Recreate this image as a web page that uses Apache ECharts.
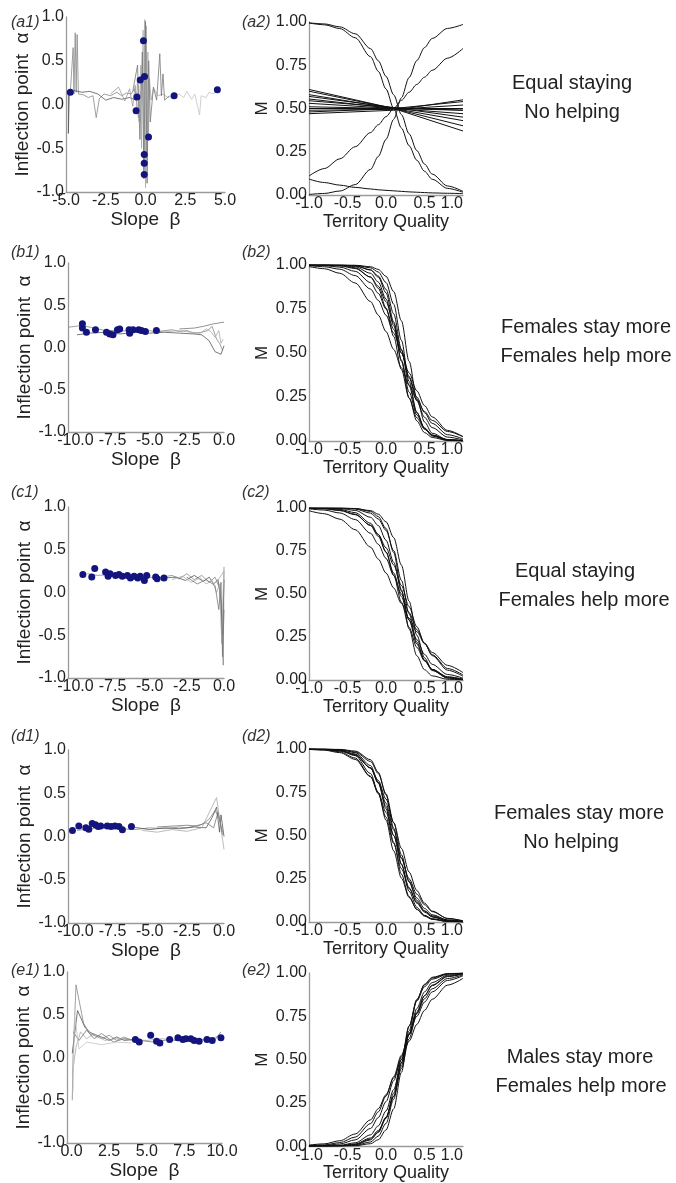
<!DOCTYPE html>
<html>
<head>
<meta charset="utf-8">
<script src="https://cdn.jsdelivr.net/npm/echarts@6/dist/echarts.min.js"></script>
<style>
  html, body { margin: 0; padding: 0; background: #fff; }
  #chart { width: 676px; height: 1183px; }
</style>
</head>
<body>
<div id="chart"></div>
<script>
// territory quality positions where the curves were read
const qGrid = [-1, -0.8, -0.6, -0.4, -0.2, -0.1, 0, 0.1, 0.2, 0.3, 0.4, 0.5, 0.6, 0.8, 1]

// tick labels of the slope axes
const aTicks = [-5, -2.5, 0, 2.5, 5]
const bTicks = [-10, -7.5, -5, -2.5, 0]
const eTicks = [0, 2.5, 5, 7.5, 10]

// (a) equal staying, no helping
const aDots = [[-4.73, 0.14], [-0.54, 0.085], [-0.59, -0.07], [-0.33, 0.28], [-0.06, 0.32], [-0.13, 0.73],
  [0.19, -0.37], [-0.08, -0.57], [-0.08, -0.67], [-0.08, -0.8], [1.8, 0.1], [4.52, 0.17]]
const aTrails = [
  [[-4.73, 0.14], [-4.62, 0.13], [-4.55, 0.65], [-4.5, 0.12], [-4.42, 0.82], [-4.36, 0.14], [-4.3, 0.8], [-4.22, 0.12], [-3.9, 0.11], [-3.6, 0.08], [-3.3, 0.1], [-3.1, -0.15], [-2.9, 0.07], [-2.6, 0.12], [-2.2, 0.1], [-1.8, 0.14], [-1.5, 0.1], [-1.2, 0.13], [-0.9, 0.12], [-0.7, 0.18], [-0.54, 0.085]],
  [[-4.85, 0.15], [-4.85, -0.33], [-4.8, 0.1], [-4.5, 0.16], [-4.0, 0.14], [-3.5, 0.15], [-3.0, 0.12], [-2.5, 0.05], [-2.0, 0.08], [-1.5, 0.06], [-1.0, 0.08], [-0.6, 0.05]],
  [[-0.59, -0.07], [-0.5, 0.3], [-0.4, -0.2], [-0.3, 0.45], [-0.25, -0.5], [-0.15, 0.85], [-0.1, -0.75], [-0.05, 0.97], [0.0, -0.95], [0.05, 0.9], [0.1, -0.6], [0.15, 0.6], [0.19, -0.37], [0.25, 0.3], [0.35, 0.05], [0.5, 0.18], [0.8, 0.1], [1.1, 0.12], [1.4, 0.08], [1.8, 0.1]],
  [[-0.8, 0.15], [-0.5, 0.45], [-0.35, -0.4], [-0.2, 0.6], [-0.1, -0.85], [0.0, 0.95], [0.1, -0.9], [0.2, 0.5], [0.3, -0.2], [0.5, 0.2], [0.7, 0.05], [0.9, 0.58], [1.0, 0.1], [1.1, 0.35], [1.2, 0.05], [1.5, 0.1]],
  [[1.8, 0.1], [2.1, 0.12], [2.4, 0.08], [2.6, 0.15], [2.9, 0.06], [3.1, 0.12], [3.4, -0.12], [3.5, 0.1], [3.8, 0.08], [4.0, 0.14], [4.3, 0.12], [4.52, 0.17]],
  [[-2.2, 0.12], [-1.7, 0.2], [-1.3, 0.04], [-1.0, 0.18], [-0.8, -0.02], [-0.65, 0.22], [-0.45, -0.15], [-0.3, 0.15]]
]
const aCurves = [
  [0.994, 0.984, 0.962, 0.909, 0.799, 0.715, 0.613, 0.500, 0.387, 0.285, 0.201, 0.137, 0.091, 0.038, 0.016],
  [0.995, 0.989, 0.972, 0.932, 0.846, 0.776, 0.686, 0.579, 0.465, 0.354, 0.257, 0.179, 0.121, 0.052, 0.021],
  [0.003, 0.009, 0.023, 0.060, 0.148, 0.223, 0.321, 0.438, 0.562, 0.679, 0.777, 0.852, 0.905, 0.963, 0.986],
  [0.110, 0.153, 0.209, 0.279, 0.361, 0.406, 0.453, 0.500, 0.547, 0.594, 0.639, 0.681, 0.721, 0.791, 0.847],
  [0.092, 0.072, 0.057, 0.044, 0.035, 0.030, 0.027, 0.024, 0.021, 0.018, 0.016, 0.014, 0.012, 0.010, 0.008]
]
// nearly flat curves: M at quality -1, 0.1 and 1
const aFlatStart = [0.61, 0.60, 0.58, 0.57, 0.555, 0.545, 0.53, 0.51, 0.50, 0.49, 0.48, 0.47]
const aFlatMid = [0.50, 0.50, 0.50, 0.505, 0.50, 0.505, 0.50, 0.50, 0.50, 0.495, 0.50, 0.49]
const aFlatEnd = [0.40, 0.37, 0.43, 0.45, 0.47, 0.49, 0.50, 0.49, 0.50, 0.52, 0.54, 0.55]

// (b) females stay more, females help more
const bDots = [[-9.53, 0.28], [-9.53, 0.23], [-9.26, 0.18], [-8.65, 0.21], [-7.91, 0.18], [-7.69, 0.16], [-7.47, 0.15],
  [-7.17, 0.21], [-7.02, 0.22], [-6.39, 0.21], [-6.35, 0.17], [-6.12, 0.21], [-5.74, 0.21], [-5.56, 0.2], [-5.29, 0.19], [-4.55, 0.2]]
const bTrails = [
  [[-10.5, 0.24], [-10, 0.25], [-9.6, 0.26], [-9, 0.24], [-8.5, 0.22], [-8, 0.2], [-7, 0.2], [-6, 0.19], [-5, 0.2], [-4.5, 0.18], [-4, 0.2], [-3.5, 0.21], [-3, 0.19], [-2.5, 0.2], [-2, 0.17], [-1.5, 0.18], [-1.1, 0.2], [-0.8, 0.25], [-0.5, 0.1], [-0.3, 0.05], [-0.1, -0.03]],
  [[-9.9, 0.15], [-9, 0.17], [-8, 0.18], [-7, 0.16], [-6, 0.18], [-5, 0.17], [-4, 0.18], [-3, 0.17], [-2, 0.16], [-1.5, 0.15], [-1.0, 0.08], [-0.6, -0.05], [-0.2, -0.08], [0, 0.02]],
  [[-4.5, 0.2], [-3.8, 0.19], [-3, 0.2], [-2.2, 0.18], [-1.6, 0.17], [-1.2, 0.22], [-0.9, 0.19], [-0.6, 0.12], [-0.35, 0.2], [-0.2, 0.05], [-0.05, 0.1]],
  [[-3, 0.22], [-2, 0.23], [-1.4, 0.25], [-0.7, 0.28], [0, 0.3]]
]
const bCurves = [
  [1.000, 1.000, 1.000, 0.999, 0.990, 0.975, 0.936, 0.849, 0.683, 0.453, 0.241, 0.108, 0.044, 0.007, 0.001],
  [1.000, 1.000, 1.000, 0.998, 0.984, 0.960, 0.901, 0.777, 0.572, 0.338, 0.164, 0.070, 0.028, 0.004, 0.001],
  [1.000, 1.000, 0.999, 0.996, 0.971, 0.931, 0.842, 0.677, 0.453, 0.246, 0.114, 0.048, 0.020, 0.003, 0.001],
  [1.000, 1.000, 0.999, 0.995, 0.973, 0.937, 0.862, 0.723, 0.522, 0.314, 0.161, 0.074, 0.033, 0.006, 0.001],
  [1.000, 1.000, 0.998, 0.990, 0.953, 0.903, 0.807, 0.655, 0.460, 0.279, 0.148, 0.073, 0.034, 0.007, 0.002],
  [1.000, 0.999, 0.996, 0.984, 0.931, 0.868, 0.756, 0.594, 0.406, 0.244, 0.132, 0.067, 0.033, 0.008, 0.002],
  [1.000, 0.999, 0.995, 0.980, 0.932, 0.879, 0.792, 0.668, 0.515, 0.359, 0.228, 0.135, 0.076, 0.022, 0.006],
  [0.999, 0.996, 0.988, 0.964, 0.900, 0.839, 0.750, 0.634, 0.500, 0.366, 0.250, 0.161, 0.100, 0.036, 0.012],
  [0.996, 0.990, 0.976, 0.940, 0.863, 0.799, 0.715, 0.613, 0.500, 0.387, 0.285, 0.201, 0.137, 0.060, 0.025],
  [0.991, 0.979, 0.953, 0.898, 0.792, 0.715, 0.622, 0.520, 0.416, 0.319, 0.235, 0.168, 0.117, 0.054, 0.024]
]

// (c) equal staying, females help more
const cDots = [[-9.5, 0.21], [-8.7, 0.28], [-8.9, 0.18], [-7.97, 0.24], [-7.8, 0.19], [-7.67, 0.22], [-7.3, 0.2],
  [-7.07, 0.21], [-6.85, 0.19], [-6.5, 0.2], [-6.3, 0.17], [-6.05, 0.19], [-5.8, 0.17], [-5.64, 0.19],
  [-5.36, 0.14], [-5.2, 0.2], [-4.6, 0.18], [-4.5, 0.16], [-4.04, 0.17]]
const cTrails = [
  [[-9.2, 0.22], [-8.5, 0.2], [-7.5, 0.21], [-6.5, 0.18], [-5.5, 0.19], [-4.5, 0.17], [-3.5, 0.2], [-3, 0.16], [-2.5, 0.22], [-2, 0.15], [-1.5, 0.2], [-1.0, 0.12], [-0.6, 0.18], [-0.3, 0.05], [-0.15, -0.3], [-0.05, -0.85], [0, 0.3]],
  [[-4.0, 0.17], [-3.2, 0.18], [-2.6, 0.14], [-2.0, 0.2], [-1.4, 0.13], [-1.0, 0.18], [-0.7, 0.1], [-0.4, 0.15], [-0.2, -0.1], [-0.1, -0.5], [0, 0.15]],
  [[-3.5, 0.15], [-2.8, 0.19], [-2.2, 0.12], [-1.6, 0.17], [-1.2, 0.1], [-0.8, 0.14], [-0.5, 0.0], [-0.3, 0.1], [-0.15, -0.6], [-0.05, 0.05], [0, 0.25], [-0.5, 0.12]],
  [[-2.5, 0.18], [-1.8, 0.1], [-1.2, 0.15], [-0.6, 0.08], [-0.35, -0.2], [-0.2, 0.12], [-0.1, -0.75], [0, -0.2]]
]
const cCurves = [
  [1.000, 1.000, 1.000, 0.997, 0.980, 0.950, 0.881, 0.741, 0.525, 0.297, 0.141, 0.060, 0.024, 0.004, 0.001],
  [1.000, 1.000, 1.000, 0.997, 0.985, 0.964, 0.920, 0.828, 0.668, 0.458, 0.261, 0.129, 0.058, 0.011, 0.002],
  [1.000, 1.000, 0.999, 0.994, 0.970, 0.936, 0.870, 0.752, 0.579, 0.385, 0.221, 0.114, 0.055, 0.012, 0.003],
  [1.000, 0.999, 0.997, 0.986, 0.946, 0.898, 0.813, 0.684, 0.517, 0.348, 0.209, 0.116, 0.061, 0.016, 0.004],
  [0.999, 0.998, 0.992, 0.973, 0.911, 0.846, 0.745, 0.608, 0.453, 0.306, 0.190, 0.111, 0.062, 0.019, 0.005],
  [0.999, 0.996, 0.988, 0.964, 0.898, 0.835, 0.743, 0.622, 0.485, 0.350, 0.235, 0.149, 0.091, 0.032, 0.011],
  [0.998, 0.995, 0.985, 0.961, 0.900, 0.846, 0.769, 0.668, 0.550, 0.426, 0.310, 0.214, 0.142, 0.057, 0.022],
  [0.995, 0.988, 0.971, 0.933, 0.853, 0.789, 0.707, 0.608, 0.500, 0.392, 0.293, 0.211, 0.147, 0.067, 0.029],
  [0.984, 0.967, 0.935, 0.874, 0.772, 0.703, 0.622, 0.535, 0.445, 0.359, 0.281, 0.214, 0.160, 0.085, 0.043]
]

// (d) females stay more, no helping
const dDots = [[-10.2, 0.07], [-9.77, 0.12], [-9.3, 0.1], [-9.1, 0.085], [-8.87, 0.15], [-8.65, 0.135], [-8.47, 0.115],
  [-8.3, 0.12], [-7.86, 0.12], [-7.6, 0.115], [-7.34, 0.12], [-7.07, 0.115], [-6.84, 0.077], [-6.23, 0.115]]
const dTrails = [
  [[-9.9, 0.07], [-9, 0.09], [-8, 0.1], [-7, 0.09], [-6, 0.08], [-5, 0.1], [-4, 0.09], [-3, 0.11], [-2.5, 0.1], [-2, 0.12], [-1.5, 0.14], [-1, 0.2], [-0.6, 0.3], [-0.3, 0.2], [-0.1, 0.05]],
  [[-6.2, 0.11], [-5, 0.08], [-4, 0.1], [-3, 0.09], [-2, 0.11], [-1.2, 0.1], [-0.8, 0.22], [-0.5, 0.34], [-0.3, 0.05], [-0.2, 0.25], [0, 0.0]],
  [[-5.5, 0.07], [-4.5, 0.05], [-3.5, 0.08], [-2.5, 0.06], [-1.5, 0.1], [-0.5, 0.45], [0, -0.15]],
  [[-4.5, 0.11], [-3.5, 0.12], [-2.5, 0.13], [-1.8, 0.12], [-1.2, 0.16], [-0.7, 0.1], [-0.4, 0.28], [-0.1, 0.02]]
]
const dCurves = [
  [1.000, 1.000, 0.998, 0.988, 0.938, 0.866, 0.735, 0.542, 0.336, 0.178, 0.085, 0.038, 0.017, 0.003, 0.001],
  [1.000, 0.999, 0.996, 0.979, 0.904, 0.808, 0.655, 0.460, 0.277, 0.147, 0.072, 0.034, 0.015, 0.003, 0.001],
  [1.000, 0.999, 0.996, 0.983, 0.928, 0.858, 0.741, 0.574, 0.389, 0.231, 0.125, 0.063, 0.031, 0.007, 0.002],
  [1.000, 0.998, 0.993, 0.971, 0.891, 0.802, 0.668, 0.500, 0.332, 0.198, 0.109, 0.057, 0.029, 0.007, 0.002],
  [0.999, 0.998, 0.991, 0.967, 0.889, 0.807, 0.686, 0.532, 0.373, 0.237, 0.139, 0.078, 0.042, 0.012, 0.003],
  [0.999, 0.996, 0.984, 0.948, 0.842, 0.741, 0.606, 0.453, 0.308, 0.193, 0.114, 0.065, 0.036, 0.011, 0.003],
  [0.999, 0.997, 0.989, 0.964, 0.891, 0.818, 0.711, 0.574, 0.426, 0.289, 0.182, 0.109, 0.063, 0.020, 0.006],
  [0.998, 0.993, 0.979, 0.940, 0.839, 0.750, 0.634, 0.500, 0.366, 0.250, 0.161, 0.100, 0.060, 0.021, 0.007],
  [1.000, 0.998, 0.991, 0.962, 0.858, 0.746, 0.589, 0.411, 0.254, 0.142, 0.074, 0.038, 0.019, 0.005, 0.001]
]

// (e) males stay more, females help more
const eDots = [[4.24, 0.21], [4.5, 0.18], [5.26, 0.26], [5.65, 0.19], [5.87, 0.17], [6.52, 0.21], [7.07, 0.23],
  [7.4, 0.21], [7.6, 0.22], [7.93, 0.22], [8.15, 0.2], [8.48, 0.19], [9.0, 0.21], [9.35, 0.2], [9.93, 0.23]]
const eTrails = [
  [[0.05, -0.5], [0.1, 0.0], [0.3, 0.85], [0.8, 0.4], [1.2, 0.28], [1.6, 0.25], [2, 0.22], [2.5, 0.26], [3, 0.2], [3.5, 0.24], [4, 0.2]],
  [[0.05, 0.05], [0.4, 0.55], [0.9, 0.35], [1.2, 0.3], [1.5, 0.27], [2, 0.24], [2.5, 0.2], [3, 0.24], [3.5, 0.2], [4.2, 0.21]],
  [[0.05, -0.2], [0.3, 0.12], [0.6, 0.3], [1.0, 0.22], [1.5, 0.28], [2.2, 0.2], [3, 0.22], [4, 0.21], [5, 0.2], [6, 0.22], [7, 0.2], [8, 0.21], [9, 0.2], [9.9, 0.26]],
  [[0.1, 0.3], [0.5, 0.2], [1.0, 0.32], [1.5, 0.22], [2.0, 0.28], [2.8, 0.18], [3.5, 0.22], [4.5, 0.2], [5.5, 0.18], [6.5, 0.21], [7.5, 0.19], [8.5, 0.21], [9.5, 0.2], [9.93, 0.3]],
  [[0.1, -0.4], [0.2, 0.5], [0.5, 0.1], [1, 0.18], [2, 0.15], [3, 0.18], [4, 0.17]]
]
const eCurves = [
  [0.000, 0.000, 0.000, 0.002, 0.014, 0.037, 0.093, 0.216, 0.426, 0.666, 0.843, 0.935, 0.975, 0.997, 1.000],
  [0.000, 0.000, 0.001, 0.004, 0.024, 0.058, 0.131, 0.271, 0.478, 0.692, 0.847, 0.931, 0.971, 0.995, 0.999],
  [0.000, 0.000, 0.001, 0.007, 0.036, 0.079, 0.162, 0.306, 0.500, 0.694, 0.838, 0.921, 0.964, 0.993, 0.999],
  [0.000, 0.000, 0.002, 0.010, 0.041, 0.083, 0.161, 0.289, 0.463, 0.646, 0.794, 0.891, 0.945, 0.987, 0.997],
  [0.000, 0.001, 0.003, 0.012, 0.047, 0.090, 0.167, 0.287, 0.448, 0.620, 0.767, 0.869, 0.930, 0.982, 0.996],
  [0.000, 0.001, 0.005, 0.019, 0.065, 0.117, 0.203, 0.327, 0.483, 0.643, 0.776, 0.869, 0.927, 0.979, 0.994],
  [0.001, 0.004, 0.012, 0.036, 0.102, 0.165, 0.257, 0.378, 0.515, 0.650, 0.765, 0.851, 0.909, 0.968, 0.989],
  [0.003, 0.007, 0.020, 0.052, 0.130, 0.198, 0.289, 0.401, 0.525, 0.646, 0.750, 0.832, 0.891, 0.957, 0.984],
  [0.006, 0.013, 0.031, 0.070, 0.152, 0.216, 0.297, 0.394, 0.500, 0.606, 0.703, 0.784, 0.848, 0.930, 0.969]
]

const FONT = "'Liberation Sans', Arial, sans-serif"
const greys = ['#888', '#555', '#aaa', '#777', '#c4c4c4', '#999']

// one row per scenario: [left, top, width, height] of the two plot boxes
const rows = [
  { tag: 'a', l: [66, 17, 159, 175], r: [309, 22, 154, 173], xr: [-5, 5], ticks: aTicks, dots: aDots, trails: aTrails, curves: aCurves,
    text: ['Equal staying', 'No helping'], tx: [572, 572], ty: 83, ly: 23 },
  { tag: 'b', l: [68, 263, 156, 169], r: [309, 265, 154, 176], xr: [-10.5, 0], ticks: bTicks, dots: bDots, trails: bTrails, curves: bCurves,
    text: ['Females stay more', 'Females help more'], tx: [586, 586], ty: 327, ly: 253 },
  { tag: 'c', l: [68, 507, 156, 171], r: [309, 508, 154, 172], xr: [-10.5, 0], ticks: bTicks, dots: cDots, trails: cTrails, curves: cCurves,
    text: ['Equal staying', 'Females help more'], tx: [575, 584], ty: 571, ly: 493 },
  { tag: 'd', l: [68, 750, 156, 173], r: [309, 749, 154, 173], xr: [-10.5, 0], ticks: bTicks, dots: dDots, trails: dTrails, curves: dCurves,
    text: ['Females stay more', 'No helping'], tx: [579, 571], ty: 813, ly: 737 },
  { tag: 'e', l: [67, 972, 155, 171], r: [309, 973, 154, 175], xr: [-0.3, 10], ticks: eTicks, dots: eDots, trails: eTrails, curves: eCurves,
    text: ['Males stay more', 'Females help more'], tx: [580, 581], ty: 1057, ly: 971 }
]

const labelStyle = { color: '#222', fontSize: 16, fontFamily: FONT }
const nameStyle = { color: '#222', fontSize: 19, fontFamily: FONT }
const axisLine = { show: true, onZero: false, lineStyle: { color: '#9a9a9a', width: 1.3 } }

const grid = []
const xAxis = []
const yAxis = []
const series = []
const graphic = []

rows.forEach((row, i) => {
  const gl = i * 2
  const gr = i * 2 + 1
  grid.push({ left: row.l[0], top: row.l[1], width: row.l[2], height: row.l[3] })
  grid.push({ left: row.r[0], top: row.r[1], width: row.r[2], height: row.r[3] })

  xAxis.push({
    gridIndex: gl, type: 'value', min: row.xr[0], max: row.xr[1],
    axisLine: axisLine, axisTick: { show: false }, splitLine: { show: false },
    axisLabel: Object.assign({ customValues: row.ticks, margin: 1, formatter: v => v.toFixed(1) }, labelStyle),
    name: 'Slope  β', nameLocation: 'middle', nameGap: 12, nameTextStyle: nameStyle
  })
  xAxis.push({
    gridIndex: gr, type: 'value', min: -1, max: 1, interval: 0.5,
    axisLine: axisLine, axisTick: { show: false }, splitLine: { show: false },
    axisLabel: Object.assign({ margin: 1, alignMaxLabel: 'right', formatter: v => v.toFixed(1) }, labelStyle),
    name: 'Territory Quality', nameLocation: 'middle', nameGap: 11, nameTextStyle: { color: '#222', fontSize: 18, fontFamily: FONT }
  })
  yAxis.push({
    gridIndex: gl, type: 'value', min: -1, max: 1, interval: 0.5,
    axisLine: axisLine, axisTick: { show: false }, splitLine: { show: false },
    axisLabel: Object.assign({ margin: 2, formatter: v => v.toFixed(1) }, labelStyle),
    name: 'Inflection point  α', nameLocation: 'middle', nameGap: 34, nameTextStyle: nameStyle
  })
  yAxis.push({
    gridIndex: gr, type: 'value', min: 0, max: 1, interval: 0.25,
    axisLine: axisLine, axisTick: { show: false }, splitLine: { show: false },
    axisLabel: Object.assign({ margin: 2, formatter: v => v.toFixed(2) }, labelStyle),
    name: 'M', nameLocation: 'middle', nameGap: 38, nameTextStyle: { color: '#222', fontSize: 17, fontFamily: FONT }
  })

  // left: evolutionary trajectories and end points
  row.trails.forEach((t, k) => {
    series.push({
      type: 'line', xAxisIndex: gl, yAxisIndex: gl, data: t, symbol: 'none', silent: true,
      lineStyle: { color: greys[k % greys.length], width: 0.8 }
    })
  })
  series.push({
    type: 'scatter', xAxisIndex: gl, yAxisIndex: gl, data: row.dots, symbolSize: 7, z: 5,
    itemStyle: { color: '#14147e', opacity: 1 }
  })

  // right: reaction norms
  row.curves.forEach(c => {
    series.push({
      type: 'line', xAxisIndex: gr, yAxisIndex: gr, symbol: 'none', silent: true,
      data: qGrid.map((q, j) => [q, c[j]]), smooth: 0.3, smoothMonotone: 'x',
      lineStyle: { color: '#111', width: 1 }
    })
  })

  graphic.push({ type: 'text', x: 11, y: row.ly, style: { text: '(' + row.tag + '1)', fontSize: 16, fontStyle: 'italic', fontFamily: FONT, fill: '#333', verticalAlign: 'middle' } })
  graphic.push({ type: 'text', x: 242, y: row.ly, style: { text: '(' + row.tag + '2)', fontSize: 16, fontStyle: 'italic', fontFamily: FONT, fill: '#333', verticalAlign: 'middle' } })
  row.text.forEach((s, k) => {
    graphic.push({ type: 'text', x: row.tx[k], y: row.ty + k * 29, style: { text: s, fontSize: 20, fontFamily: FONT, fill: '#222', align: 'center', verticalAlign: 'middle' } })
  })
})

// the almost flat norms of panel (a2)
aFlatStart.forEach((s, k) => {
  series.push({
    type: 'line', xAxisIndex: 1, yAxisIndex: 1, symbol: 'none', silent: true,
    data: [[-1, s], [0.1, aFlatMid[k]], [1, aFlatEnd[k]]],
    lineStyle: { color: '#111', width: 1 }
  })
})

const chart = echarts.init(document.getElementById('chart'))
chart.setOption({
  animation: false,
  backgroundColor: '#fff',
  grid: grid,
  xAxis: xAxis,
  yAxis: yAxis,
  series: series,
  graphic: graphic
})
window.onresize = () => {
  chart.resize()
}
</script>
</body>
</html>
